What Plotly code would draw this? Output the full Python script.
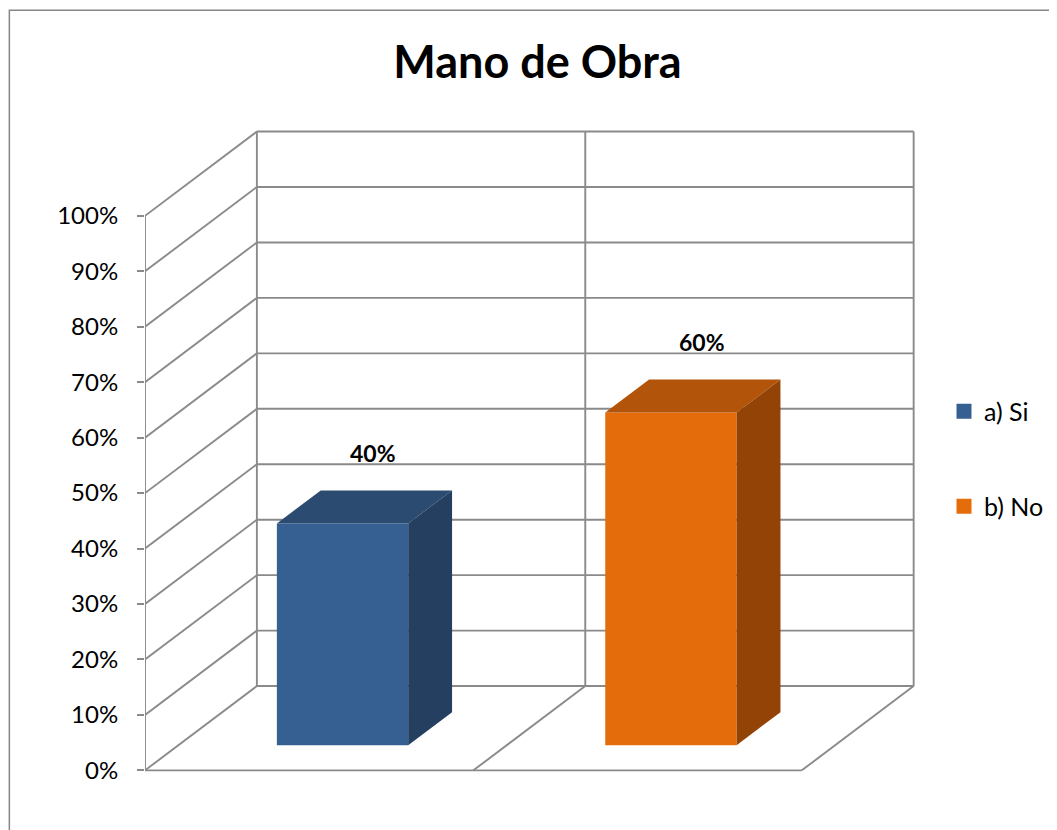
import plotly.graph_objects as go

# ---- data ----
categories = ["a) Si", "b) No"]
values = [40, 60]
front_colors = ["#376092", "#E46C0A"]
top_colors = ["#2C4B71", "#B25409"]
side_colors = ["#243F60", "#934306"]
tick_vals = list(range(0, 101, 10))
tick_text = [f"{v}%" for v in tick_vals]
title_text = "Mano de Obra"

# ---- oblique projection constants (depth offset in axis units) ----
DX = 0.3407   # horizontal shift of back plane (x units)
DY = 15.2     # vertical shift of back plane (y units)
D0, D1 = 0.298, 0.69  # bar depth (front, back) as fraction of floor depth
BAR_W = 0.40
GRID = "#8A8A8A"
FONT = "Lato"

W, H = 1049, 822          # page has an 8px body margin
L, R, T, B = 136.5, 912.35, 108.28, 778.62   # plot area in figure px
PW, PH = R - L, B - T

fig = go.Figure()

shapes = []
def line(x0, y0, x1, y1):
    shapes.append(dict(type="line", xref="x", yref="y", x0=x0, y0=y0, x1=x1, y1=y1,
                       line=dict(color=GRID, width=1.9), layer="below"))

n = len(categories)
xl, xr = -0.5, n - 0.5
for v in tick_vals:
    line(xl + DX, v + DY, xr + DX, v + DY)
    line(xl, v, xl + DX, v + DY)
for k in range(n + 1):
    xb = xl + k + DX
    line(xb, DY, xb, tick_vals[-1] + DY)
line(xl, 0, xr, 0)
for k in range(1, n + 1):
    line(xl + k, 0, xl + k + DX, DY)
line(xl, 0, xl, tick_vals[-1])

ddx = (D1 - D0) * DX
ddy = (D1 - D0) * DY
for i, (cat, v) in enumerate(zip(categories, values)):
    cx = i + D0 * DX
    base = D0 * DY
    x0, x1 = cx - BAR_W / 2, cx + BAR_W / 2
    leg = "legend" if i == 0 else f"legend{i+1}"
    fig.add_trace(go.Bar(x=[cx], y=[v], base=[base], width=BAR_W, name=cat,
                         marker=dict(color=front_colors[i], line=dict(width=0)),
                         showlegend=False, hoverinfo="skip"))
    top = v + base
    fig.add_trace(go.Scatter(x=[x0, x1, x1 + ddx, x0 + ddx, x0],
                             y=[top, top, top + ddy, top + ddy, top],
                             fill="toself", fillcolor=top_colors[i], mode="lines",
                             line=dict(width=0, color=top_colors[i]), showlegend=False,
                             hoverinfo="skip"))
    fig.add_trace(go.Scatter(x=[x1, x1, x1 + ddx, x1 + ddx, x1],
                             y=[base, top, top + ddy, base + ddy, base],
                             fill="toself", fillcolor=side_colors[i], mode="lines",
                             line=dict(width=0, color=side_colors[i]), showlegend=False,
                             hoverinfo="skip"))
    # legend entry (square swatch)
    fig.add_trace(go.Scatter(x=[None], y=[None], mode="markers", name=cat, legend=leg,
                             marker=dict(symbol="square", size=15, color=front_colors[i],
                                         line=dict(width=0)),
                             showlegend=True, hoverinfo="skip"))
    fig.add_annotation(x=i + 0.195, y=v + 17.2, text=f"<b>{v}%</b>", showarrow=False,
                       xref="x", yref="y", font=dict(family=FONT, size=23, color="black"))

# chart border
shapes.append(dict(type="rect", xref="paper", yref="paper",
                   x0=(0.7 - L) / PW, x1=(1070 - L) / PW,
                   y0=-0.2, y1=(B - 2.7) / PH,
                   line=dict(color="#878787", width=1.5), fillcolor="rgba(0,0,0,0)", layer="below"))

fig.update_layout(
    width=W, height=H,
    margin=dict(l=L, r=W - R, t=T, b=H - B, pad=0),
    paper_bgcolor="white", plot_bgcolor="white",
    barmode="overlay",
    shapes=shapes,
    title=dict(text=f"<b>{title_text}</b>", x=529.5 / W, xref="container",
               y=1 - 54 / H, yref="container", xanchor="center", yanchor="middle",
               font=dict(family=FONT, size=45, color="black")),
    xaxis=dict(range=[-0.5, 1.86], showgrid=False, zeroline=False, showticklabels=False,
               showline=False, ticks=""),
    yaxis=dict(range=[-3, 118], showgrid=False, zeroline=False, tickvals=tick_vals,
               ticktext=tick_text, ticks="outside", ticklen=7, tickwidth=1.9, tickcolor=GRID,
               ticklabelstandoff=14,
               tickfont=dict(family=FONT, size=24, color="black"), showline=False),
    legend=dict(x=936 / W, y=1 - 403.5 / H, xref="container", yref="container",
                xanchor="left", yanchor="middle", font=dict(family=FONT, size=25, color="black"),
                bgcolor="rgba(0,0,0,0)"),
    legend2=dict(x=936 / W, y=1 - 498.5 / H, xref="container", yref="container",
                 xanchor="left", yanchor="middle", font=dict(family=FONT, size=25, color="black"),
                 bgcolor="rgba(0,0,0,0)"),
)

fig.write_html("out.html")
